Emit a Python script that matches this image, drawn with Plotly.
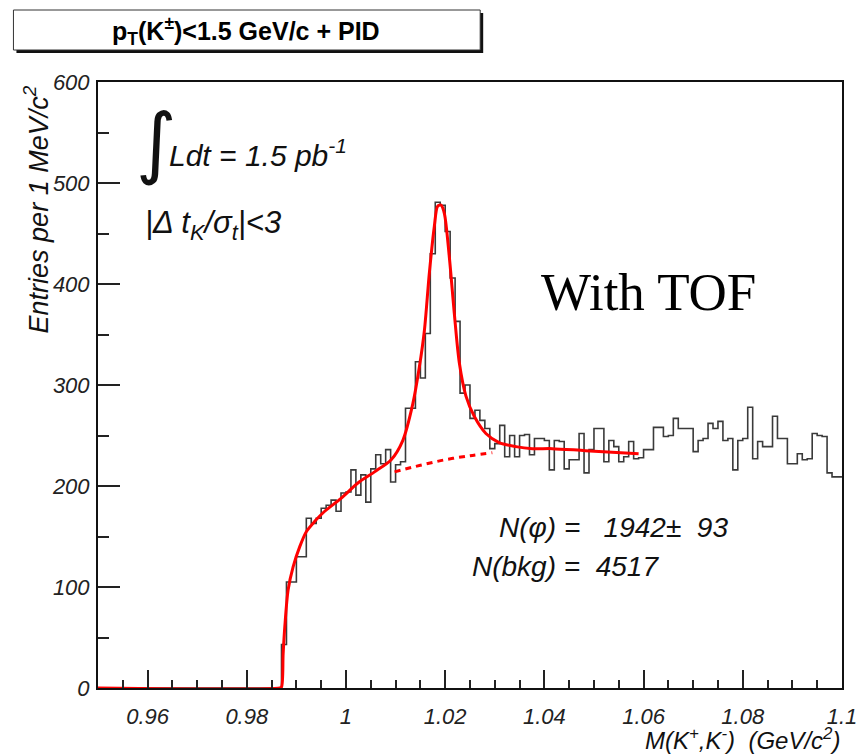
import numpy as np
import plotly.graph_objects as go

# ---------------- data ----------------
bin_low = 0.95
bin_width = 0.001
counts = [0] * 37 + [
    43, 105, 105, 130, 130, 168, 163, 168, 178, 181,      # 0.987 - 0.996
    186, 175, 193, 194, 216, 191, 211, 184, 217, 231,     # 0.997 - 1.006
    222, 236, 204, 221, 224, 277, 277, 323, 307, 351,     # 1.007 - 1.016
    430, 481, 478, 452, 406, 363, 292, 300, 267, 275,     # 1.017 - 1.026
    265, 257, 237, 242, 260, 229, 250, 229, 250, 251,     # 1.027 - 1.036
    231, 247, 247, 245, 216, 245, 244, 217, 226, 226,     # 1.037 - 1.046
    252, 213, 236, 257, 257, 224, 245, 239, 224, 229,     # 1.047 - 1.056
    244, 227, 228, 236, 236, 258, 258, 249, 250, 267,     # 1.057 - 1.066
    257, 257, 257, 234, 245, 247, 262, 257, 264, 245,     # 1.067 - 1.076
    247, 216, 245, 247, 278, 227, 244, 239, 239, 269,     # 1.077 - 1.086
    247, 247, 222, 222, 232, 226, 227, 252, 250, 249,     # 1.087 - 1.096
    213, 209, 209,                                        # 1.097 - 1.099
]

# fitted total (signal + background)
fit_mass = [0.950, 0.9866, 0.98700, 0.98733, 0.98767, 0.98833, 0.98934, 0.99068,
            0.99203, 0.99370, 0.99571, 0.99906, 1.00240, 1.00576, 1.00911,
            1.01145, 1.01346, 1.01480, 1.01581, 1.01681, 1.01781, 1.01848,
            1.01916, 1.01983, 1.02083, 1.02184, 1.02285, 1.02419, 1.02586,
            1.02821, 1.03088, 1.03424, 1.03758, 1.04160, 1.04830, 1.05900]
fit_vals = [0, 0, 1, 34, 61, 97, 120, 140,
            155, 165, 175, 188, 203, 214, 226,
            245, 281, 318, 354, 411, 457, 477,
            478, 470, 427, 371, 322, 289, 269,
            252, 243, 239, 237, 237, 235, 232]

# background-only component (red dashed)
bkg_mass = [1.0098, 1.0150, 1.0200, 1.0250, 1.0295]
bkg_vals = [214, 220.5, 226, 230, 233]

x_ticks = [0.96, 0.98, 1.00, 1.02, 1.04, 1.06, 1.08, 1.10]
y_ticks = [0, 100, 200, 300, 400, 500, 600]

# ---------------- layout geometry ----------------
W, H = 857, 754
L, R, T, B = 97.6, 15, 82, 66
PW, PH = W - L - R, H - T - B


def px_x(p):
    return (p - L) / PW


def px_y(p):
    return (H - B - p) / PH


FONT = "Liberation Sans"

edges = bin_low + bin_width * np.arange(len(counts) + 1)
step_y = list(counts) + [counts[-1]]

fig = go.Figure()
fig.add_trace(go.Scatter(
    x=edges, y=step_y, mode="lines", line_shape="hv",
    line=dict(color="#3a3a3a", width=1.6), hoverinfo="skip", showlegend=False))
fig.add_trace(go.Scatter(
    x=bkg_mass, y=bkg_vals, mode="lines", line_shape="spline",
    line=dict(color="#ff0000", width=3, dash="6px,5px"), showlegend=False))
fig.add_trace(go.Scatter(
    x=fit_mass, y=fit_vals, mode="lines", line_shape="spline",
    line=dict(color="#ff0000", width=3, smoothing=0.8), showlegend=False))

tickfont = dict(family=FONT, size=22, color="#222222", style="italic")

fig.update_xaxes(
    range=[0.95, 1.10001], tickvals=x_ticks, ticktext=[f"{v:g}" for v in x_ticks],
    ticks="inside", ticklen=18, tickwidth=1.5, tickcolor="#222",
    minor=dict(dtick=0.005, tick0=0.95, ticks="inside", ticklen=8,
               tickwidth=1.5, tickcolor="#222", showgrid=False),
    showline=True, linewidth=2, linecolor="#111", mirror=True,
    showgrid=False, zeroline=False, tickfont=tickfont, ticklabelstandoff=8,
    ticklabeloverflow="allow", automargin=False)
fig.update_yaxes(
    range=[0, 600], tickvals=y_ticks,
    ticks="inside", ticklen=22, tickwidth=1.5, tickcolor="#222",
    minor=dict(dtick=50, tick0=0, ticks="inside", ticklen=11,
               tickwidth=1.5, tickcolor="#222", showgrid=False),
    showline=True, linewidth=2, linecolor="#111", mirror=True,
    showgrid=False, zeroline=False, tickfont=tickfont, ticklabelstandoff=2,
    automargin=False)

ital = dict(family=FONT, color="#111111", style="italic")


def note(text, xp, yp, xa="left", ya="middle", font=None, **kw):
    return dict(text=text, x=px_x(xp), y=px_y(yp), xref="paper", yref="paper",
                xanchor=xa, yanchor=ya, showarrow=False, font=font, **kw)


annotations = [
    note("Entries per 1 MeV/c<sup>2</sup>", 36, 83, "center", "top",
         dict(size=27, **ital), textangle=-90),
    note("M(K<sup>+</sup>,K<sup>-</sup>)\u00a0\u00a0(GeV/c<sup>2</sup>)", 842, 739,
         "right", "middle", dict(size=24, **ital)),
    note("\u222b", 156, 142, "center", "middle",
         dict(family="DejaVu Sans", size=78, color="#111")),
    note("Ldt = 1.5 pb<sup>-1</sup>", 167, 153, "left", "middle", dict(size=30, **ital)),
    note("|\u0394 t<sub>K</sub>/\u03c3<sub>t</sub>|&lt;3", 143, 225, "left", "middle",
         dict(size=31, **ital)),
    note("With TOF", 539, 292, "left", "middle",
         dict(family="Liberation Serif", size=53, color="#000")),
    note("N(\u03c6) =\u00a0\u00a0\u00a01942\u00b1\u00a0\u00a093", 497, 527, "left", "middle",
         dict(size=28, **ital)),
    note("N(bkg) =\u00a0\u00a04517", 470, 566, "left", "middle", dict(size=28, **ital)),
    note("<b>p<sub>T</sub>(K<sup>\u00b1</sup>)&lt;1.5 GeV/c + PID</b>", 246, 31,
         "center", "middle", dict(family=FONT, size=25, color="#000")),
]

shapes = [
    dict(type="rect", xref="paper", yref="paper",
         x0=px_x(16), x1=px_x(483), y0=px_y(53), y1=px_y(13),
         fillcolor="#111", line=dict(width=0), layer="below"),
    dict(type="rect", xref="paper", yref="paper",
         x0=px_x(13), x1=px_x(480), y0=px_y(50), y1=px_y(10),
         fillcolor="white", line=dict(color="#333", width=1), layer="below"),
]

fig.update_layout(
    width=W, height=H, autosize=False,
    margin=dict(l=L, r=R, t=T, b=B, pad=0, autoexpand=False),
    paper_bgcolor="white", plot_bgcolor="white",
    showlegend=False, annotations=annotations, shapes=shapes,
)

fig.write_html("out.html")
